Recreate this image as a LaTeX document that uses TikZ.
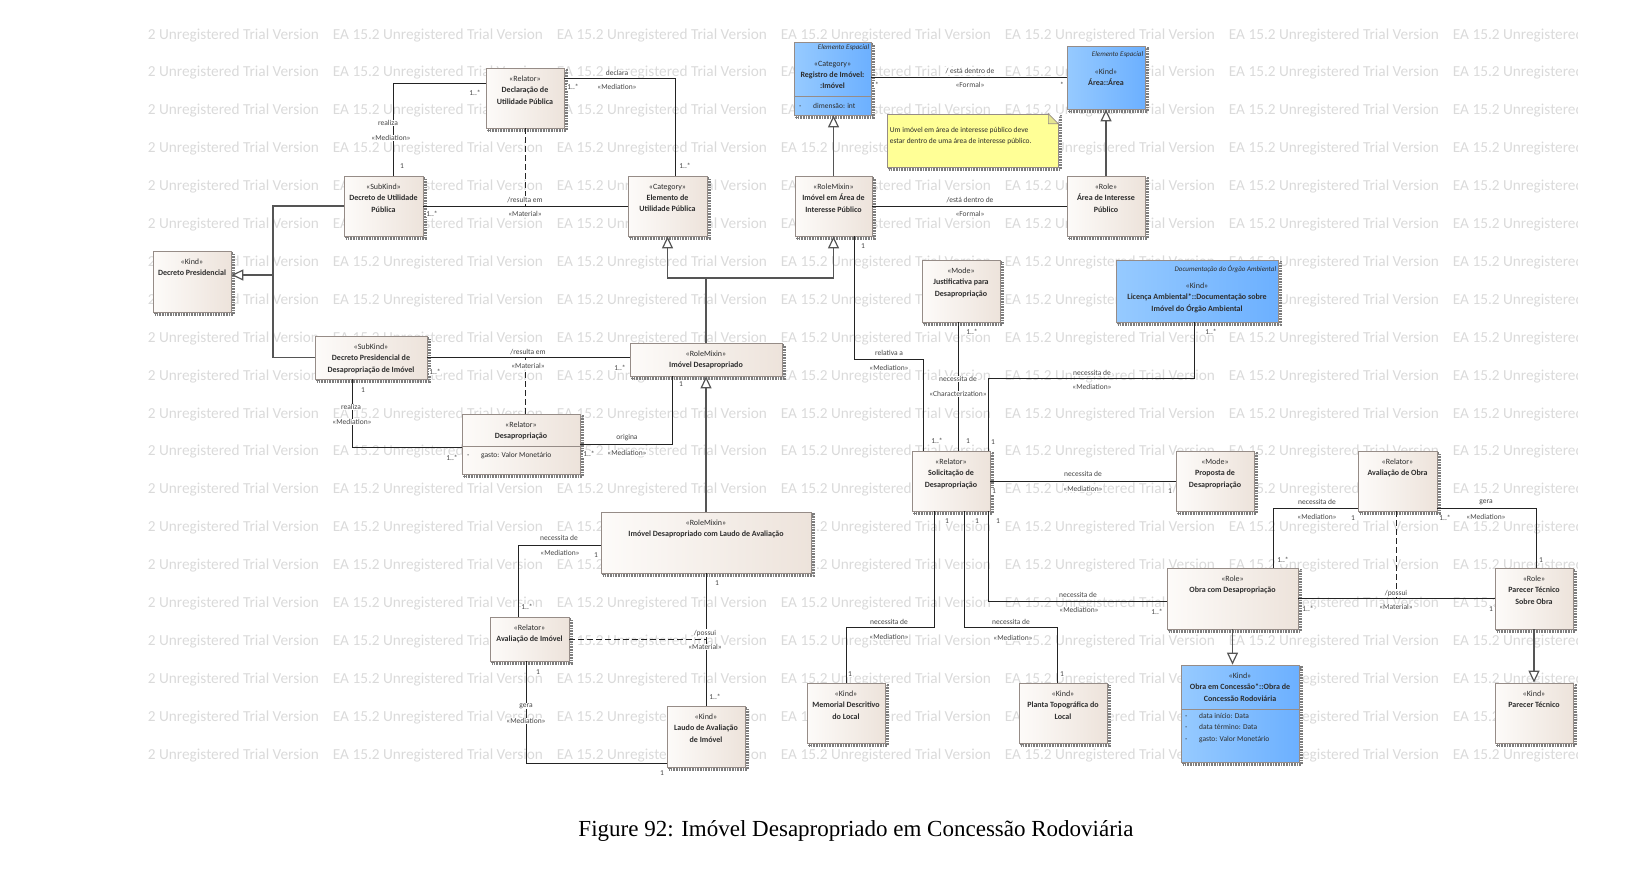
\documentclass[tikz,border=0pt]{standalone}
\usepackage{fontspec}
\setmainfont{Carlito}
\newfontfamily\capfont{Liberation Serif}
\usepackage{tikz}
\usetikzlibrary{arrows.meta}

\definecolor{beigeL}{RGB}{253,251,249}
\definecolor{beigeR}{RGB}{237,227,219}
\definecolor{blueL}{RGB}{150,202,255}
\definecolor{blueR}{RGB}{108,176,255}
\definecolor{noteyellow}{RGB}{255,255,150}
\definecolor{boxline}{RGB}{150,140,135}
\definecolor{shadowgray}{RGB}{125,125,125}
\definecolor{linecol}{RGB}{35,35,35}
\definecolor{gencol}{RGB}{85,85,85}
\definecolor{txtcol}{RGB}{45,45,45}
\definecolor{lblcol}{RGB}{70,70,70}
\definecolor{wmark}{RGB}{218,218,218}

\tikzset{
  shadowed/.style={preaction={draw=shadowgray, line width=2.4pt,
      dash pattern=on 0.8pt off 0.8pt, transform canvas={shift={(2.4pt,-2.4pt)}}}},
  classbox/.style={shadowed, draw=boxline, line width=0.7pt,
      left color=beigeL, right color=beigeR, inner sep=0pt},
  spatialbox/.style={classbox, left color=blueL, right color=blueR},
  headtext/.style={anchor=north, yshift=-8pt, align=center, inner sep=0pt,
      text=txtcol, font=\fontsize{8}{11.3}\selectfont},
  head/.style={label={[headtext]north:{#1}}},
  spacetext/.style={anchor=north east, xshift=-2pt, yshift=-3pt, inner sep=0pt,
      text=txtcol, font=\fontsize{7}{8}\selectfont\itshape},
  attr/.style={anchor=west, inner sep=0pt, text=txtcol, font=\fontsize{7.5}{11.5}\selectfont},
  lbl/.style={fill=white, inner sep=0.8pt, text=lblcol, font=\fontsize{7.5}{9}\selectfont},
  assoc/.style={draw=linecol, line width=1pt},
  genline/.style={draw=gencol, line width=1.2pt},
  gen/.style={genline, -{Triangle[length=12pt, width=11pt, fill=white]}},
  mat/.style={draw=linecol, line width=1pt, dash pattern=on 6pt off 3pt},
  charline/.style={draw=linecol, line width=0.7pt},
  wm/.style={anchor=west, inner sep=0pt, text=wmark, font=\fontsize{15.3}{15.3}\selectfont},
}

\begin{document}
\begin{tikzpicture}[x=1pt,y=-1pt]
\useasboundingbox (0,0) rectangle (1652,876);

%watermark
\begin{scope}
  \clip (147,27) rectangle (1577,768);
  \foreach \r in {0,...,19}{
    \foreach \c in {0,...,6}{
      \node[wm] (wm-\r-\c) at ({108.7+224*\c},{35+37.9*\r}) {EA 15.2 Unregistered Trial Version};
    }
  }
\end{scope}

%classes
\node[classbox, minimum width=78pt, minimum height=60pt,
  head={«Relator»\\\textbf{Declaração de}\\\textbf{Utilidade Pública}}] (declUP) at (525,98) {};
\node[classbox, minimum width=79pt, minimum height=60pt,
  head={«SubKind»\\\textbf{Decreto de Utilidade}\\\textbf{Pública}}] (decretoUP) at (383.5,206) {};
\node[classbox, minimum width=78pt, minimum height=61pt,
  head={«Kind»\\\textbf{Decreto Presidencial}}] (decretoPres) at (192,281.5) {};
\node[classbox, minimum width=79pt, minimum height=60pt,
  head={«Category»\\\textbf{Elemento de}\\\textbf{Utilidade Pública}}] (elemUP) at (667.5,206) {};
\node[spatialbox, minimum width=77pt, minimum height=73pt,
  label={[headtext, yshift=-11pt]north:{«Category»\\\textbf{Registro de Imóvel:}\\\textbf{:Imóvel}}},
  label={[spacetext]north east:{Elemento Espacial}}] (registro) at (832.5,78.5) {};
\node[classbox, minimum width=77pt, minimum height=60pt,
  head={«RoleMixin»\\\textbf{Imóvel em Área de}\\\textbf{Interesse Público}}] (imovelArea) at (833.5,206) {};
\node[spatialbox, minimum width=78pt, minimum height=63pt,
  label={[headtext, yshift=-15pt]north:{«Kind»\\\textbf{Área::Área}}},
  label={[spacetext, yshift=-3pt]north east:{Elemento Espacial}}] (area) at (1106,77.5) {};
\node[classbox, minimum width=78pt, minimum height=60pt,
  head={«Role»\\\textbf{Área de Interesse}\\\textbf{Público}}] (areaInt) at (1106,206) {};
\node[classbox, minimum width=78pt, minimum height=62pt,
  head={«Mode»\\\textbf{Justificativa para}\\\textbf{Desapropriação}}] (justif) at (961,291) {};
\node[spatialbox, minimum width=162pt, minimum height=62pt,
  label={[headtext, yshift=-15pt]north:{«Kind»\\\textbf{Licença Ambiental*::Documentação sobre}\\\textbf{Imóvel do Órgão Ambiental}}},
  label={[spacetext, yshift=-3pt]north east:{Documentação do Órgão Ambiental}}] (licenca) at (1197,291) {};
\node[classbox, minimum width=112pt, minimum height=43pt,
  head={«SubKind»\\\textbf{Decreto Presidencial de}\\\textbf{Desapropriação de Imóvel}}] (decretoDesap) at (371,357.5) {};
\node[classbox, minimum width=152pt, minimum height=33pt,
  head={«RoleMixin»\\\textbf{Imóvel Desapropriado}}] (imovelDesap) at (706,359.5) {};
\node[classbox, minimum width=118pt, minimum height=60pt,
  head={«Relator»\\\textbf{Desapropriação}}] (desap) at (521,444) {};
\node[classbox, minimum width=210pt, minimum height=61pt,
  head={«RoleMixin»\\\textbf{Imóvel Desapropriado com Laudo de Avaliação}}] (imovelLaudo) at (706,542.5) {};
\node[classbox, minimum width=79pt, minimum height=44pt,
  head={«Relator»\\\textbf{Avaliação de Imóvel}}] (avalImovel) at (529.5,639) {};
\node[classbox, minimum width=78pt, minimum height=61pt,
  head={«Kind»\\\textbf{Laudo de Avaliação}\\\textbf{de Imóvel}}] (laudo) at (706,736.5) {};
\node[classbox, minimum width=78pt, minimum height=60pt,
  head={«Relator»\\\textbf{Solicitação de}\\\textbf{Desapropriação}}] (solic) at (951,481) {};
\node[classbox, minimum width=78pt, minimum height=60pt,
  head={«Mode»\\\textbf{Proposta de}\\\textbf{Desapropriação}}] (proposta) at (1215,481) {};
\node[classbox, minimum width=79pt, minimum height=60pt,
  head={«Relator»\\\textbf{Avaliação de Obra}}] (avalObra) at (1397.5,481) {};
\node[classbox, minimum width=131pt, minimum height=61pt,
  head={«Role»\\\textbf{Obra com Desapropriação}}] (obraDesap) at (1232.5,598.5) {};
\node[classbox, minimum width=78pt, minimum height=61pt,
  head={«Role»\\\textbf{Parecer Técnico}\\\textbf{Sobre Obra}}] (parecerObra) at (1534,598.5) {};
\node[spatialbox, minimum width=118pt, minimum height=97pt,
  head={«Kind»\\\textbf{Obra em Concessão*::Obra de}\\\textbf{Concessão Rodoviária}}] (obraConc) at (1240,713.5) {};
\node[classbox, minimum width=78pt, minimum height=60pt,
  head={«Kind»\\\textbf{Parecer Técnico}}] (parecer) at (1534,713) {};
\node[classbox, minimum width=78pt, minimum height=60pt,
  head={«Kind»\\\textbf{Memorial Descritivo}\\\textbf{do Local}}] (memorial) at (846,713) {};
\node[classbox, minimum width=88pt, minimum height=60pt,
  head={«Kind»\\\textbf{Planta Topográfica do}\\\textbf{Local}}] (planta) at (1063,713) {};

%attributes
\draw[boxline, line width=0.7pt] (registro.west |- 0,96) -- (registro.east |- 0,96);
\node[attr] (registro-a) at (799,106) {\makebox[14pt][l]{-}dimensão: int};
\draw[boxline, line width=0.7pt] (desap.west |- 0,446) -- (desap.east |- 0,446);
\node[attr] (desap-a) at (467,456) {\makebox[14pt][l]{-}gasto: Valor Monetário};
\draw[boxline, line width=0.7pt] (obraConc.west |- 0,709) -- (obraConc.east |- 0,709);
\node[attr, anchor=north west, align=left] (obraConc-a) at (1185,713)
  {\makebox[14pt][l]{-}data início: Data\\\makebox[14pt][l]{-}data término: Data\\\makebox[14pt][l]{-}gasto: Valor Monetário};

%note
\node[shadowed, draw=boxline, fill=noteyellow, line width=0.7pt, minimum width=171pt, minimum height=53pt,
  label={[attr, anchor=north west, align=left, xshift=3pt, yshift=-13pt]north west:{Um imóvel em área de interesse público deve\\estar dentro de uma área de interesse público.}}] (note) at (972.5,140.5) {};
\fill[white] ([xshift=-10pt]note.north east) -- ([xshift=1pt,yshift=1pt]note.north east) -- ([yshift=-10pt]note.north east) -- cycle;
\draw[boxline, line width=0.7pt, fill=noteyellow!80!gray] ([xshift=-10pt]note.north east) -- ([xshift=-10pt,yshift=-10pt]note.north east) -- ([yshift=-10pt]note.north east) -- cycle;

%generalizations
\coordinate (genjoin) at (273,275);
\coordinate (genmix) at (706,278);
\draw[genline] (decretoUP.west) -| (genjoin) |- (decretoDesap.west);
\draw[gen] (genjoin) -- (genjoin -| decretoPres.east);
\draw[genline] (imovelDesap.north) -- (genmix);
\draw[gen] (genmix) -| (elemUP.south);
\draw[gen] (genmix) -| (imovelArea.south);
\draw[gen] (imovelArea.north) -- (imovelArea.north |- registro.south);
\draw[gen] (areaInt.north) -- (area.south);
\draw[gen] (imovelLaudo.north) -- (imovelDesap.south);
\draw[gen] (obraDesap.south) -- (obraDesap.south |- obraConc.north);
\draw[gen] (parecerObra.south) -- (parecer.north);

%associations
\draw[assoc] ([yshift=15pt]declUP.west) -| ([xshift=9.5pt]decretoUP.north)
  node[lbl] at (475,93) {1..*} node[lbl] at (388,123) {realiza}
  node[lbl] at (391,138) {«Mediation»} node[lbl] at (402,166) {1};
\draw[assoc] ([yshift=20pt]declUP.east) -| ([xshift=7.5pt]elemUP.north)
  node[lbl] at (617,73) {declara} node[lbl] at (617,87) {«Mediation»}
  node[lbl] at (573,87) {1..*} node[lbl] at (685,166) {1..*};
\draw[assoc] (decretoUP.east) -- (elemUP.west)
  node[lbl] at (432,214) {1..*};
\draw[mat] (declUP.south) -- (declUP.south |- decretoUP.east)
  node[lbl] at (525,200) {/resulta em} node[lbl] at (525,214) {«Material»};
\draw[assoc] ([yshift=1.5pt]registro.east) -- ([yshift=1.5pt]registro.east -| area.west)
  node[lbl] at (970,71) {/ está dentro de} node[lbl] at (970,85) {«Formal»}
  node[lbl] at (877,85) {*} node[lbl] at (1062,85) {*};
\draw[assoc] (imovelArea.east) -- (areaInt.west)
  node[lbl] at (970,200) {/está dentro de} node[lbl] at (970,214) {«Formal»};
\draw[assoc] (decretoDesap.east) -- (decretoDesap.east -| imovelDesap.west)
  node[lbl] at (435,372) {1..*} node[lbl] at (620,368) {1..*};
\draw[mat] ([xshift=4pt]desap.north) -- ([xshift=4pt]desap.north |- decretoDesap.east)
  node[lbl] at (528,352) {/resulta em} node[lbl] at (528,366) {«Material»};
\draw[assoc] ([xshift=-19pt]decretoDesap.south) |- ([yshift=-3pt]desap.west)
  node[lbl] at (363,390) {1} node[lbl] at (351,407) {realiza}
  node[lbl] at (352,422) {«Mediation»} node[lbl] at (452,458) {1..*};
\draw[assoc] (desap.east) -| ([xshift=-34pt]imovelDesap.south)
  node[lbl] at (627,438) {origina} node[lbl] at (627,453) {«Mediation»}
  node[lbl] at (589,454) {1..*} node[lbl] at (681,384) {1};
\draw[assoc] ([yshift=-2.5pt]imovelLaudo.west) -| ([xshift=-11.5pt]avalImovel.north)
  node[lbl] at (559,538) {necessita de} node[lbl] at (560,553) {«Mediation»}
  node[lbl] at (596,555) {1} node[lbl] at (527,607) {1..*};
\draw[assoc] (imovelLaudo.south) -- (laudo.north)
  node[lbl] at (717,583) {1} node[lbl] at (715,697) {1..*};
\draw[mat] (avalImovel.east) -- (avalImovel.east -| laudo.north)
  node[lbl] at (705,633) {/possui} node[lbl] at (705,647) {«Material»};
\draw[assoc] ([xshift=-3.5pt]avalImovel.south) |- ([yshift=-26.5pt]laudo.west)
  node[lbl] at (538,672) {1} node[lbl] at (526,706) {gera}
  node[lbl] at (526,721) {«Mediation»} node[lbl] at (662,773) {1};
\coordinate (relbend) at (923,359);
\draw[assoc] ([xshift=20.5pt]imovelArea.south) |- (relbend) -- (relbend |- solic.north)
  node[lbl] at (863,246) {1} node[lbl] at (889,353) {relativa a}
  node[lbl] at (889,368) {«Mediation»} node[lbl] at (937,441) {1..*};
\draw[charline] ([xshift=-3pt]justif.south) -- ([xshift=-3pt]justif.south |- solic.north)
  node[lbl] at (972,332) {1..*} node[lbl] at (958,379) {necessita de}
  node[lbl] at (958,394) {«Characterization»} node[lbl] at (968,441) {1};
\coordinate (licbend) at (988,378);
\draw[assoc] ([xshift=-3pt]licenca.south) |- (licbend) -- (licbend |- solic.north)
  node[lbl] at (1211,332) {1..*} node[lbl] at (1092,373) {necessita de}
  node[lbl] at (1092,387) {«Mediation»} node[lbl] at (993,442) {1};
\draw[assoc] (solic.east) -- (proposta.west)
  node[lbl] at (1083,474) {necessita de} node[lbl] at (1083,489) {«Mediation»}
  node[lbl] at (994,491) {1} node[lbl] at (1170,491) {1};
\coordinate (membend) at (846,627);
\draw[assoc] ([xshift=-17pt]solic.south) |- (membend) -- (memorial.north)
  node[lbl] at (947,521) {1} node[lbl] at (889,622) {necessita de}
  node[lbl] at (889,637) {«Mediation»} node[lbl] at (850,674) {1};
\coordinate (plbend) at (1057,627);
\draw[assoc] ([xshift=13pt]solic.south) |- (plbend) -- (plbend |- planta.north)
  node[lbl] at (977,521) {1} node[lbl] at (1011,622) {necessita de}
  node[lbl] at (1013,638) {«Mediation»} node[lbl] at (1062,674) {1};
\draw[assoc] ([xshift=37pt]solic.south) |- ([yshift=-2.5pt]obraDesap.west)
  node[lbl] at (998,521) {1} node[lbl] at (1078,595) {necessita de}
  node[lbl] at (1079,610) {«Mediation»} node[lbl] at (1157,612) {1..*};
\draw[assoc] ([yshift=-27pt]avalObra.west) -| ([xshift=40.5pt]obraDesap.north)
  node[lbl] at (1317,502) {necessita de} node[lbl] at (1317,517) {«Mediation»}
  node[lbl] at (1353,518) {1} node[lbl] at (1283,560) {1..*};
\draw[assoc] ([yshift=-27pt]avalObra.east) -| ([xshift=2pt]parecerObra.north)
  node[lbl] at (1486,502) {gera} node[lbl] at (1486,517) {«Mediation»}
  node[lbl] at (1445,518) {1..*} node[lbl] at (1541,560) {1};
\draw[assoc] (obraDesap.east) -- (parecerObra.west)
  node[lbl] at (1308,609) {1..*} node[lbl] at (1491,609) {1};
\draw[mat] ([xshift=-1.5pt]avalObra.south) -- ([xshift=-1.5pt]avalObra.south |- obraDesap.east)
  node[lbl] at (1396,593) {/possui} node[lbl] at (1396,607) {«Material»};

%caption
\node[inner sep=0pt, font=\capfont\fontsize{23}{27}\selectfont] (caption) at (856,831)
  {Figure 92: Imóvel Desapropriado em Concessão Rodoviária};

\end{tikzpicture}
\end{document}
